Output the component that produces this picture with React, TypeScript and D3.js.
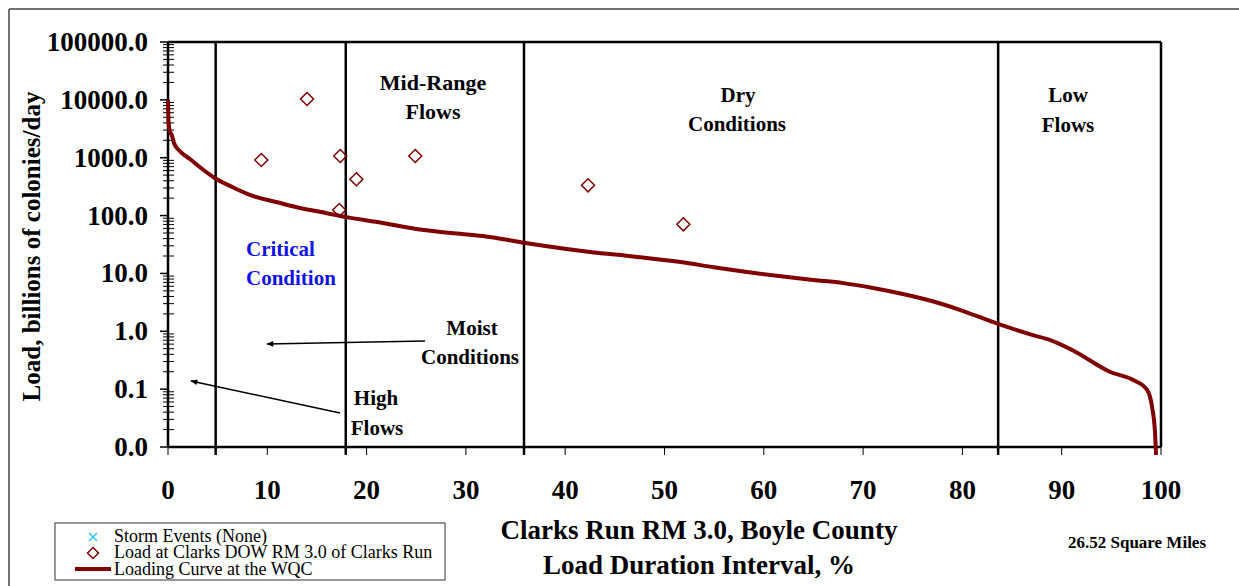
import React from "react";
import * as d3 from "d3";

// Loading curve (duration interval %, load billions of colonies/day)
const curvePct = [0, 0.05, 0.15, 0.4, 0.6, 1.3, 2.2, 3.2, 4.7, 6.5, 8.3, 11, 13.3, 16, 18, 21.5, 25, 28.5, 31.7, 36, 42.5, 47, 51.6, 55, 58.3, 61.5, 65, 68, 71, 74, 77, 79.8, 83.6, 87.1, 88.8, 91.1, 94.9, 97.2, 98.6, 99.1, 99.4, 99.5];
const curveLoad = [10000, 4500, 3000, 2400, 1800, 1250, 950, 690, 446, 310, 226, 170, 135, 110, 94, 75, 58.6, 50, 44.4, 33.6, 23.5, 19.5, 15.7, 12.8, 10.6, 9.0, 7.7, 6.8, 5.6, 4.4, 3.3, 2.33, 1.34, 0.86, 0.71, 0.47, 0.198, 0.144, 0.097, 0.049, 0.0175, 0.0073];

// Observed loads at Clarks DOW RM 3.0
const obsPct = [9.4, 14.0, 17.35, 17.25, 18.97, 24.9, 42.3, 51.9];
const obsLoad = [912, 10350, 1070, 125, 424, 1070, 333, 70.6];

const xTicks = [0, 10, 20, 30, 40, 50, 60, 70, 80, 90, 100];
const yTicks = [0.01, 0.1, 1, 10, 100, 1000, 10000, 100000];
const yTickLabels = ["0.0", "0.1", "1.0", "10.0", "100.0", "1000.0", "10000.0", "100000.0"];
const zoneBounds = [4.8, 17.9, 35.85, 83.6];

const FONT = "'Liberation Serif', 'Times New Roman', serif";
const RED = "#800000";

export default function App() {
  const L = 168, R = 1161, T = 42, B = 447;
  const x = d3.scaleLinear().domain([0, 100]).range([L, R]);
  const y = d3.scaleLog().domain([0.01, 100000]).range([B, T]);

  const minorTicks: number[] = [];
  for (let e = -2; e < 5; e++) {
    for (let m = 2; m <= 9; m++) minorTicks.push(m * Math.pow(10, e));
  }

  const pts: [number, number][] = curvePct.map((p, i) => [p, curveLoad[i]]);
  const line = d3
    .line<[number, number]>()
    .x((d) => x(d[0]))
    .y((d) => y(d[1]))
    .curve(d3.curveMonotoneX);

  const diamond = (cx: number, cy: number, r: number) =>
    `M${cx},${cy - r}L${cx + r},${cy}L${cx},${cy + r}L${cx - r},${cy}Z`;

  const bold = { fontFamily: FONT, fontWeight: 700 as const, fill: "#000" };

  return (
    <svg
      width={1239}
      height={586}
      style={{ position: "absolute", left: 0, top: 0, background: "#fff" }}
    >
      <defs>
        <marker id="arr" viewBox="0 0 10 10" refX="9" refY="5" markerWidth="9" markerHeight="7" orient="auto-start-reverse" markerUnits="userSpaceOnUse">
          <path d="M0,1L10,5L0,9Z" fill="#000" />
        </marker>
      </defs>
      <rect x={0} y={0} width={1239} height={586} fill="#fff" />
      {/* outer frame */}
      <line x1={9} y1={9} x2={1239} y2={9} stroke="#444" strokeWidth={1.5} />
      <line x1={9} y1={9} x2={9} y2={586} stroke="#444" strokeWidth={1.5} />

      {/* zone lines */}
      {zoneBounds.map((b, i) => (
        <line key={"z" + i} x1={x(b)} x2={x(b)} y1={T} y2={B + 8} stroke="#000" strokeWidth={2.5} />
      ))}

      {/* plot frame */}
      <line x1={L} x2={R} y1={T} y2={T} stroke="#000" strokeWidth={2.5} />
      <line x1={R} x2={R} y1={T} y2={B} stroke="#000" strokeWidth={2.5} />
      <line x1={L} x2={R} y1={B} y2={B} stroke="#000" strokeWidth={2.5} />
      <line x1={L} x2={L} y1={T} y2={B} stroke="#000" strokeWidth={2.5} />

      {/* y ticks */}
      {minorTicks.map((v, i) => (
        <line key={"m" + i} x1={L - 5} x2={L + 6} y1={y(v)} y2={y(v)} stroke="#000" strokeWidth={1} />
      ))}
      {yTicks.map((v, i) => (
        <g key={"y" + i}>
          <line x1={L - 8} x2={L} y1={y(v)} y2={y(v)} stroke="#000" strokeWidth={1.5} />
          <text x={148} y={y(v) + 9} textAnchor="end" fontSize={27} style={bold}>
            {yTickLabels[i]}
          </text>
        </g>
      ))}

      {/* x ticks */}
      {xTicks.map((v, i) => (
        <g key={"x" + i}>
          <line x1={x(v)} x2={x(v)} y1={B} y2={B + 8} stroke="#000" strokeWidth={1} />
          <text x={x(v)} y={499} textAnchor="middle" fontSize={27} style={bold}>
            {v}
          </text>
        </g>
      ))}

      {/* loading curve */}
      <path d={line(pts) || ""} fill="none" stroke={RED} strokeWidth={4} strokeLinejoin="round" />

      {/* observations */}
      {obsPct.map((p, i) => (
        <path key={"o" + i} d={diamond(x(p), y(obsLoad[i]), 6.5)} fill="none" stroke={RED} strokeWidth={1.5} />
      ))}

      {/* zone labels */}
      <text x={433} y={90} textAnchor="middle" fontSize={22} style={bold}>Mid-Range</text>
      <text x={433} y={119} textAnchor="middle" fontSize={22} style={bold}>Flows</text>
      <text x={738} y={102} textAnchor="middle" fontSize={21} style={bold}>Dry</text>
      <text x={737} y={131} textAnchor="middle" fontSize={21} style={bold}>Conditions</text>
      <text x={1068} y={102} textAnchor="middle" fontSize={21} style={bold}>Low</text>
      <text x={1068} y={132} textAnchor="middle" fontSize={21} style={bold}>Flows</text>
      <text x={246} y={256} fontSize={21} style={{ ...bold, fill: "#1010F0" }}>Critical</text>
      <text x={246} y={285} fontSize={21} style={{ ...bold, fill: "#1010F0" }}>Condition</text>
      <text x={472} y={335} textAnchor="middle" fontSize={21} style={bold}>Moist</text>
      <text x={470} y={364} textAnchor="middle" fontSize={21} style={bold}>Conditions</text>
      <text x={376} y={405} textAnchor="middle" fontSize={21} style={bold}>High</text>
      <text x={377} y={435} textAnchor="middle" fontSize={21} style={bold}>Flows</text>

      {/* arrows */}
      <line x1={425} y1={341} x2={267} y2={344} stroke="#000" strokeWidth={1.5} markerEnd="url(#arr)" />
      <line x1={340} y1={413} x2={191} y2={381} stroke="#000" strokeWidth={1.5} markerEnd="url(#arr)" />

      {/* axis titles */}
      <text transform={`translate(40,${(T + B) / 2 + 2}) rotate(-90)`} textAnchor="middle" fontSize={25} style={bold}>
        Load, billions of colonies/day
      </text>
      <text x={699} y={539} textAnchor="middle" fontSize={27} style={bold}>Clarks Run RM 3.0, Boyle County</text>
      <text x={699} y={574} textAnchor="middle" fontSize={27} style={bold}>Load Duration Interval, %</text>
      <text x={1137} y={548} textAnchor="middle" fontSize={17} style={bold}>26.52 Square Miles</text>

      {/* legend */}
      <rect x={55} y={523} width={390} height={57} fill="#fff" stroke="#333" strokeWidth={1} />
      <path d="M89,533L97,541M97,533L89,541" stroke="#1EC8F0" strokeWidth={1.3} />
      <path d={diamond(93, 553, 5.5)} fill="none" stroke={RED} strokeWidth={1.5} />
      <line x1={75} x2={111} y1={569} y2={569} stroke={RED} strokeWidth={4} />
      <text x={114} y={542} fontSize={18} fontFamily={FONT}>Storm Events (None)</text>
      <text x={114} y={558} fontSize={18} fontFamily={FONT}>Load at Clarks DOW RM 3.0 of Clarks Run</text>
      <text x={114} y={575} fontSize={18} fontFamily={FONT}>Loading Curve at the WQC</text>
    </svg>
  );
}
